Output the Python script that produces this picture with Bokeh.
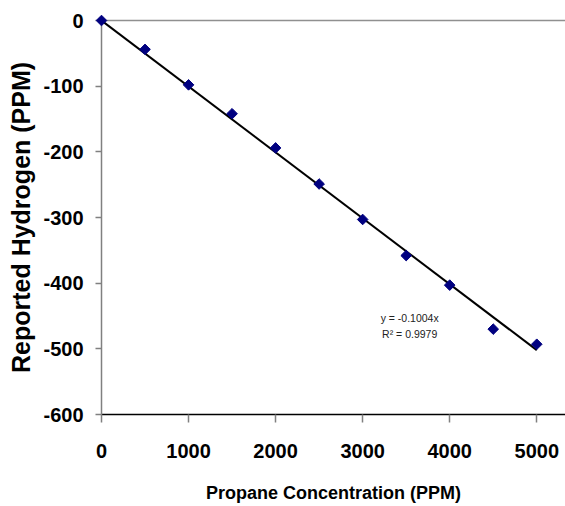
import math
from bokeh.plotting import figure
from bokeh.models import Range1d, FixedTicker, LinearAxis, Label
from bokeh.embed import file_html
from bokeh.resources import INLINE

# Data
concentration = [0, 500, 1000, 1500, 2000, 2500, 3000, 3500, 4000, 4500, 5000]
hydrogen = [0, -44, -98, -142, -194, -249, -303, -358, -403, -470, -493]
slope = -0.1004
trend_x = [0, 5000]
trend_y = [slope * v for v in trend_x]
x_ticks = [0, 1000, 2000, 3000, 4000, 5000]
y_ticks = [0, -100, -200, -300, -400, -500, -600]
eq_text = "y = -0.1004x"
r2_text = "R\u00b2 = 0.9979"

FONT = "Liberation Sans"

p = figure(width=565, height=506, output_backend="svg", toolbar_location=None,
           x_range=Range1d(0, 5330), y_range=Range1d(-600, 0),
           min_border_left=101, min_border_right=0, min_border_top=20, min_border_bottom=92)
p.background_fill_color = "white"
p.border_fill_color = "white"
p.outline_line_color = None
p.xgrid.visible = False
p.ygrid.visible = False

# trend line
p.line(trend_x, trend_y, line_color="black", line_width=2)
# points
p.scatter(concentration, hydrogen, marker="square", size=7.5, angle=math.pi / 4,
          fill_color="#000080", line_color="#000080", level="overlay")

# x axis
xa = p.xaxis[0]
xa.ticker = FixedTicker(ticks=x_ticks)
xa.major_label_overrides = {t: str(t) for t in x_ticks}
xa.axis_line_color = "black"
xa.axis_line_width = 1.5
xa.major_tick_line_color = "#808080"
xa.major_tick_line_width = 1.5
xa.major_tick_out = 8
xa.major_tick_in = 0
xa.minor_tick_line_color = None
xa.major_label_text_font = FONT
xa.major_label_text_font_style = "bold"
xa.major_label_text_font_size = "20px"
xa.major_label_text_color = "black"
xa.major_label_standoff = 21
xa.axis_label = "Propane Concentration (PPM)"
xa.axis_label_text_font = FONT
xa.axis_label_text_font_style = "bold"
xa.axis_label_text_font_size = "18px"
xa.axis_label_text_color = "black"
xa.axis_label_standoff = 22

# y axis
ya = p.yaxis[0]
ya.ticker = FixedTicker(ticks=y_ticks)
ya.major_label_overrides = {t: str(t) for t in y_ticks}
ya.axis_line_color = "#808080"
ya.axis_line_width = 1.5
ya.major_tick_line_color = "#808080"
ya.major_tick_line_width = 1.5
ya.major_tick_out = 6
ya.major_tick_in = 0
ya.minor_tick_line_color = None
ya.major_label_text_font = FONT
ya.major_label_text_font_style = "bold"
ya.major_label_text_font_size = "20px"
ya.major_label_text_color = "black"
ya.major_label_standoff = 12
ya.axis_label = "Reported Hydrogen (PPM)"
ya.axis_label_text_font = FONT
ya.axis_label_text_font_style = "bold"
ya.axis_label_text_font_size = "25px"
ya.axis_label_text_color = "black"
ya.axis_label_standoff = 5

# top border line
top = LinearAxis(ticker=FixedTicker(ticks=[]), axis_line_color="#909090", axis_line_width=1.5,
                 major_label_text_font_size="0px", major_tick_line_color=None,
                 minor_tick_line_color=None)
p.add_layout(top, "above")

# regression text
p.add_layout(Label(x=3540, y=-453, text=eq_text, text_align="center", text_baseline="middle",
                   text_font=FONT, text_font_size="10.5px", text_color="#222222"))
p.add_layout(Label(x=3540, y=-477, text=r2_text, text_align="center", text_baseline="middle",
                   text_font=FONT, text_font_size="10.5px", text_color="#222222"))

open("out.html", "w").write(file_html(p, INLINE))
